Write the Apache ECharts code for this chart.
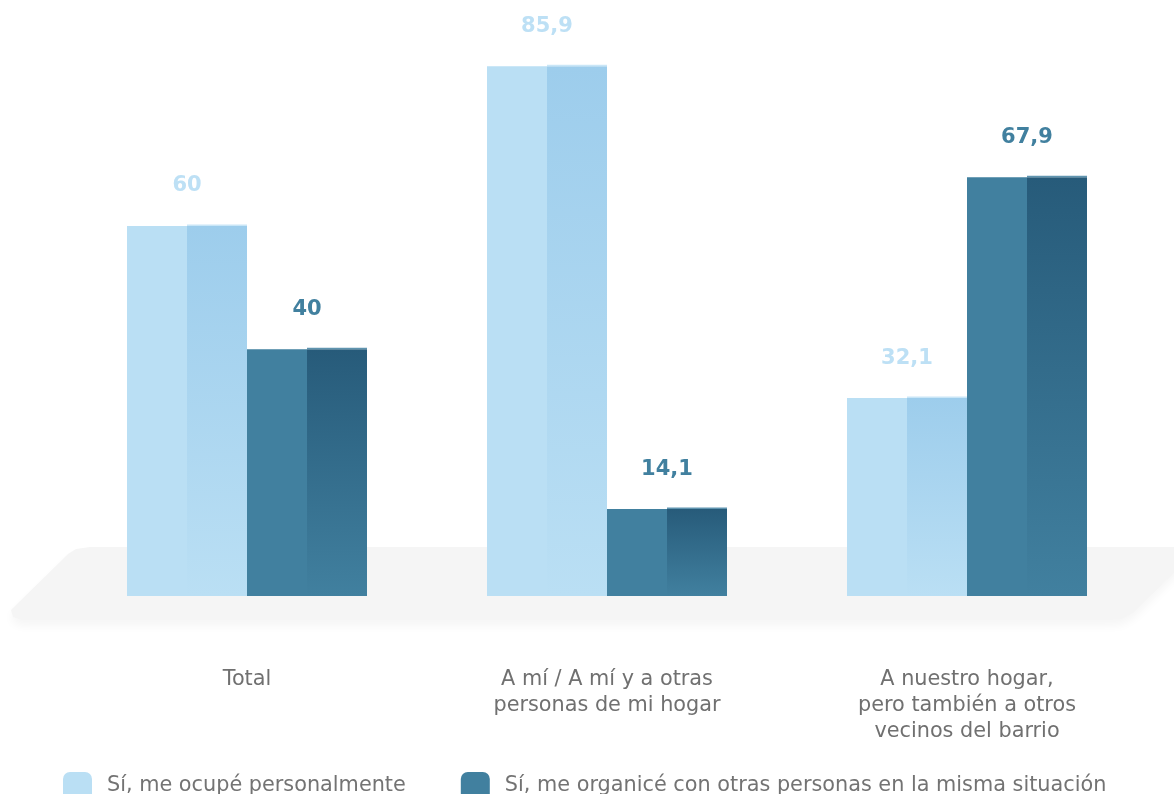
<!DOCTYPE html>
<html>
<head>
<meta charset="utf-8">
<script src="https://cdn.jsdelivr.net/npm/echarts@6/dist/echarts.min.js"></script>
<style>
  html, body { margin: 0; padding: 0; background: #ffffff; }
  #chart { width: 1174px; height: 794px; }
</style>
</head>
<body>
<div id="chart"></div>
<script>
// Categories and values (percentages)
const categories = [
  'Total',
  'A mí / A mí y a otras\npersonas de mi hogar',
  'A nuestro hogar,\npero también a otros\nvecinos del barrio'
];
const seriesNames = [
  'Sí, me ocupé personalmente',
  'Sí, me organicé con otras personas en la misma situación'
];
const personalValues = [60, 85.9, 32.1];
const organizedValues = [40, 14.1, 67.9];

// Colour sets: flat face, shaded face top, top highlight, label colour
const palettes = [
  { flat: '#badff4', shade: '#9dcdec', edge: '#c9e6f7', label: '#bde0f5' },
  { flat: '#41809f', shade: '#275b7a', edge: '#5f94af', label: '#41809f' }
];

const textFont = '"DejaVu Sans", sans-serif';
const fmt = v => String(v).replace('.', ',');

function makeRender(seriesIndex) {
  const pal = palettes[seriesIndex];
  return function (params, api) {
    const idx = api.value(0);
    const val = api.value(1);
    const top = api.coord([idx, val]);
    const base = api.coord([idx, 0]);
    const catW = api.size([1, 0])[0];
    const barW = catW / 3;
    const x0 = seriesIndex === 0 ? top[0] - barW : top[0];
    const h = base[1] - top[1];
    const half = barW / 2;
    return {
      type: 'group',
      children: [
        {
          type: 'rect',
          shape: { x: x0, y: top[1], width: half, height: h },
          style: { fill: pal.flat }
        },
        {
          type: 'rect',
          shape: { x: x0 + half, y: top[1], width: barW - half, height: h },
          style: {
            fill: new echarts.graphic.LinearGradient(0, 0, 0, 1, [
              { offset: 0, color: pal.shade },
              { offset: 1, color: pal.flat }
            ])
          }
        },
        {
          type: 'rect',
          shape: { x: x0 + half, y: top[1] - 1.5, width: barW - half, height: 1.5 },
          style: { fill: pal.edge }
        },
        {
          type: 'text',
          style: {
            text: fmt(val),
            x: x0 + barW / 2,
            y: top[1] - 40,
            align: 'center',
            verticalAlign: 'middle',
            fill: pal.label,
            font: 'bold 21px "DejaVu Sans", sans-serif'
          }
        }
      ]
    };
  };
}

const chart = echarts.init(document.getElementById('chart'), null, { renderer: 'canvas' });

const option = {
  backgroundColor: '#ffffff',
  animation: false,
  grid: { left: 67, right: 27, top: 41, bottom: 198 },
  xAxis: {
    type: 'category',
    data: categories,
    axisLine: { show: false },
    axisTick: { show: false },
    axisLabel: {
      margin: 71,
      color: '#707070',
      fontSize: 20.8,
      lineHeight: 26,
      fontFamily: textFont,
      interval: 0
    }
  },
  yAxis: { type: 'value', min: 0, max: 90, show: false },
  legend: {
    left: 63,
    top: 772,
    padding: 0,
    icon: 'roundRect',
    itemWidth: 29,
    itemHeight: 28,
    itemGap: 55,
    data: seriesNames,
    textStyle: {
      fontSize: 20.8,
      color: '#737373',
      fontFamily: textFont,
      padding: [0, 0, 16, 10]
    }
  },
  graphic: [
    {
      // grey floor beneath the bars
      type: 'polygon',
      z: 0,
      shape: {
        points: [
          [68, 554], [76, 549], [90, 547], [1200, 547],
          [1134, 612], [1122, 619], [1110, 620], [22, 620], [13, 617], [11, 610]
        ]
      },
      style: {
        fill: '#f5f5f5',
        shadowColor: 'rgba(0,0,0,0.04)',
        shadowBlur: 10,
        shadowOffsetY: 6
      }
    }
  ],
  series: [
    {
      name: seriesNames[0],
      type: 'custom',
      z: 5,
      itemStyle: { color: palettes[0].flat },
      renderItem: makeRender(0),
      data: personalValues.map((v, i) => [i, v])
    },
    {
      name: seriesNames[1],
      type: 'custom',
      z: 5,
      itemStyle: { color: palettes[1].flat },
      renderItem: makeRender(1),
      data: organizedValues.map((v, i) => [i, v])
    }
  ]
};

chart.setOption(option);
</script>
</body>
</html>
